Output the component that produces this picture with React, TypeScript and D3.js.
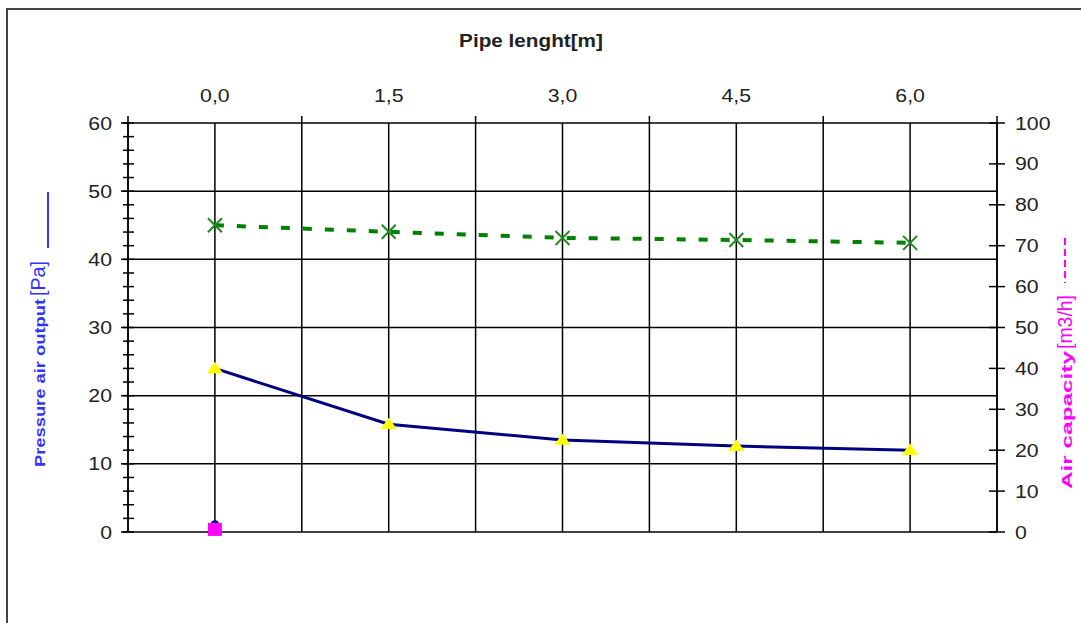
import React from "react";
import * as d3 from "d3";

const lengths = [0, 1.5, 3.0, 4.5, 6.0];
const lengthLabels = ["0,0", "1,5", "3,0", "4,5", "6,0"];
const pressure = [24.0, 15.8, 13.5, 12.6, 12.0];
const airCapacity = [75.0, 73.4, 71.9, 71.4, 70.7];
const leftTicks = [0, 10, 20, 30, 40, 50, 60];
const rightTicks = [0, 10, 20, 30, 40, 50, 60, 70, 80, 90, 100];
const markerPoint = { x: 0, left: 1, right: 1 };

const W = 1081;
const H = 623;
const L = 128, R = 997, T = 123, B = 532;
const SX = 1.12;
const FONT = "'Liberation Sans', Arial, sans-serif";

function Txt({ x, y, anchor = "middle", size = 19, bold = false, fill = "#222", children, rotate = false, textLength }: any) {
  const tr = rotate ? `translate(${x},${y}) rotate(-90)` : `translate(${x},${y}) scale(${SX},1)`;
  return (
    <text transform={tr} textAnchor={anchor} fontSize={size} fontWeight={bold ? "bold" : "normal"} fill={fill} fontFamily={FONT} dominantBaseline="central" textLength={textLength} lengthAdjust={textLength ? "spacingAndGlyphs" : undefined}>
      {children}
    </text>
  );
}

export default function App() {
  const step = lengths[1] - lengths[0];
  const x = d3.scaleLinear().domain([lengths[0] - step / 2, lengths[lengths.length - 1] + step / 2]).range([L, R]);
  const yL = d3.scaleLinear().domain([0, 60]).range([B, T]);
  const yR = d3.scaleLinear().domain([0, 100]).range([B, T]);

  const gridX = d3.range(0, lengths.length * 2 + 1).map((i) => lengths[0] - step / 2 + (i * step) / 2);
  const boundaries = d3.range(0, lengths.length + 1).map((i) => lengths[0] - step / 2 + i * step);
  const minor = d3.range(0, 61, 2);

  const pLine = d3.line<number>().x((_, i) => x(lengths[i])).y((d) => yL(d));
  const aLine = d3.line<number>().x((_, i) => x(lengths[i])).y((d) => yR(d));

  const tri = d3.symbol().type(d3.symbolTriangle).size(75)();

  return (
    <svg width={W} height={H} style={{ position: "absolute", left: 0, top: 0, background: "#fff" }}>
      <rect x={0} y={0} width={W} height={H} fill="#fff" />
      <rect x={7} y={9} width={1200} height={800} fill="none" stroke="#444" strokeWidth={2} />

      {/* title */}
      <Txt x={531} y={40} bold size={18.5}>Pipe lenght[m]</Txt>

      {/* top labels */}
      {lengths.map((v, i) => (
        <Txt key={"tl" + i} x={x(v)} y={95} size={19}>{lengthLabels[i]}</Txt>
      ))}

      {/* vertical grid lines */}
      {gridX.map((g, i) => (
        <line key={"gx" + i} x1={x(g)} x2={x(g)} y1={T} y2={B} stroke="#000" strokeWidth={1.5} />
      ))}
      {/* top tick marks at boundaries */}
      {boundaries.map((b, i) => (
        <line key={"tb" + i} x1={x(b)} x2={x(b)} y1={T - 7} y2={T} stroke="#000" strokeWidth={1.5} />
      ))}
      {/* horizontal grid lines */}
      {leftTicks.map((t) => (
        <line key={"gy" + t} x1={L} x2={R} y1={yL(t)} y2={yL(t)} stroke="#000" strokeWidth={1.5} />
      ))}

      {/* left axis */}
      <line x1={L} x2={L} y1={T} y2={B} stroke="#000" strokeWidth={1.5} />
      {minor.map((m) => (
        <line key={"mn" + m} x1={L - 5} x2={L + 6} y1={yL(m)} y2={yL(m)} stroke="#000" strokeWidth={1.5} />
      ))}
      {leftTicks.map((t) => (
        <line key={"mj" + t} x1={L - 7} x2={L} y1={yL(t)} y2={yL(t)} stroke="#000" strokeWidth={1.5} />
      ))}
      {leftTicks.map((t) => (
        <Txt key={"ll" + t} x={112} y={yL(t)} anchor="end" size={19}>{t}</Txt>
      ))}

      {/* right axis */}
      <line x1={R} x2={R} y1={T} y2={B} stroke="#000" strokeWidth={1.5} />
      {rightTicks.map((t) => (
        <line key={"rt" + t} x1={R - 8} x2={R + 8} y1={yR(t)} y2={yR(t)} stroke="#000" strokeWidth={1.5} />
      ))}
      {rightTicks.map((t) => (
        <Txt key={"rl" + t} x={1015} y={yR(t)} anchor="start" size={19}>{t}</Txt>
      ))}

      {/* air capacity series */}
      <path d={aLine(airCapacity) || ""} fill="none" stroke="#008000" strokeWidth={4} strokeDasharray="9,13" />
      {airCapacity.map((v, i) => {
        const cx = x(lengths[i]);
        const cy = yR(v);
        const s = 7;
        return (
          <g key={"ax" + i} stroke="#1f8a1f" strokeWidth={2}>
            <line x1={cx - s} y1={cy - s} x2={cx + s} y2={cy + s} />
            <line x1={cx - s} y1={cy + s} x2={cx + s} y2={cy - s} />
          </g>
        );
      })}

      {/* pressure series */}
      <path d={pLine(pressure) || ""} fill="none" stroke="#000080" strokeWidth={3} />
      {pressure.map((v, i) => (
        <path key={"pt" + i} d={tri || ""} transform={`translate(${x(lengths[i])},${yL(v) + 1}) scale(1.25,1)`} fill="#ffff00" />
      ))}

      {/* extra markers at origin */}
      <circle cx={x(markerPoint.x)} cy={yL(markerPoint.left) - 1} r={4} fill="#000080" />
      <rect x={x(markerPoint.x) - 7} y={yR(markerPoint.right) - 5} width={14} height={13} fill="#ff00ff" />

      {/* left axis title */}
      <g>
        <Txt x={39} y={467} anchor="start" size={15} bold fill="#3333ff" rotate textLength={168}>Pressure air output</Txt>
        <Txt x={38} y={296} anchor="start" size={20} fill="#3333ff" rotate textLength={35}>[Pa]</Txt>
        <line x1={48} x2={48} y1={192} y2={248} stroke="#3333ff" strokeWidth={2} />
      </g>

      {/* right axis title */}
      <g>
        <Txt x={1066} y={489} anchor="start" size={15} bold fill="#ff00ff" rotate textLength={138}>Air capacity</Txt>
        <Txt x={1065} y={349} anchor="start" size={20} fill="#ff00ff" rotate textLength={54}>[m3/h]</Txt>
        <line x1={1065} x2={1065} y1={238} y2={283} stroke="#ff00ff" strokeWidth={2} strokeDasharray="7,4" />
      </g>
    </svg>
  );
}
